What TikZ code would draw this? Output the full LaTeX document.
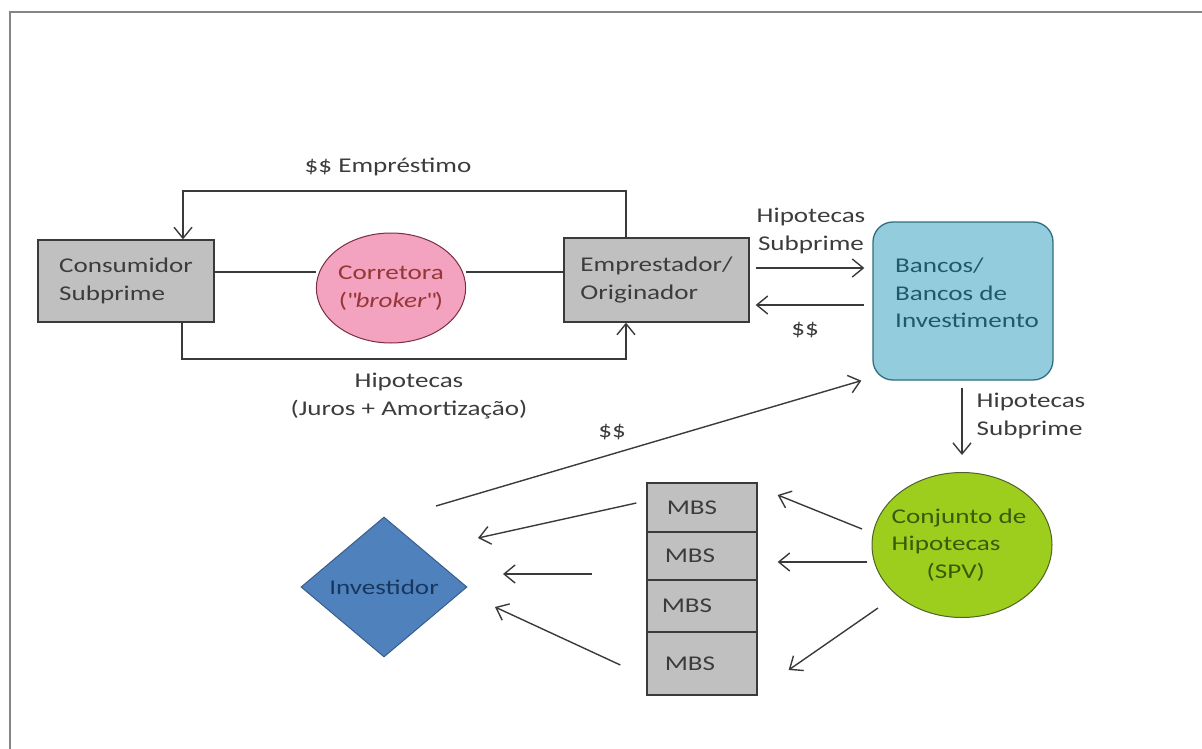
\documentclass[tikz,border=0pt]{standalone}
\usepackage{fontspec}
\setmainfont{Carlito}[FakeStretch=1.29]
\usetikzlibrary{arrows.meta,calc,shapes.geometric}
\pgfdeclarelayer{bg}
\pgfsetlayers{bg,main}
\definecolor{lineg}{HTML}{3A3A3A}
\definecolor{boxgray}{HTML}{C0C0C0}
\definecolor{txtgray}{HTML}{3C3C3C}
\definecolor{framegray}{HTML}{858585}
\definecolor{pinkfill}{HTML}{F3A2C0}
\definecolor{pinkborder}{HTML}{7A2E40}
\definecolor{pinktext}{HTML}{953735}
\definecolor{bancfill}{HTML}{93CDDD}
\definecolor{bancborder}{HTML}{2F6F80}
\definecolor{banctext}{HTML}{215968}
\definecolor{conjfill}{HTML}{9DCE1E}
\definecolor{conjborder}{HTML}{4F6228}
\definecolor{conjtext}{HTML}{3A5A0A}
\definecolor{invfill}{HTML}{4F81BD}
\definecolor{invborder}{HTML}{385D8A}
\definecolor{invtext}{HTML}{17375E}
\begin{document}
\begin{tikzpicture}[x=1pt,y=-1pt,
  every node/.style={font=\fontsize{21}{27.5}\selectfont},
  ln/.style={draw=lineg, line width=1.4pt},
  arr/.style={ln, -{Straight Barb[length=11pt,width=18pt]}},
  graybox/.style={rectangle, draw=lineg, line width=1.3pt, fill=boxgray, text=txtgray, align=left, inner sep=0pt},
  mbs/.style={rectangle, draw=lineg, line width=1.3pt, fill=boxgray, text=txtgray, minimum width=110pt, inner sep=0pt},
  lbl/.style={text=txtgray, inner sep=0pt}]
\useasboundingbox (0,0) rectangle (1202,749);
\draw[framegray, line width=2.5pt] (1202,12) -- (10,12) -- (10,749);

% nodes
\node[graybox, minimum width=176pt, minimum height=82pt] (cons) at (126,281) {Consumidor\\Subprime};
\node[ellipse, draw=pinkborder, line width=1pt, fill=pinkfill, text=pinktext, minimum width=140pt, minimum height=110pt, inner sep=0pt, align=center] (corr) at (391,288) {Corretora\\(\textquotedbl\textit{broker}\textquotedbl)};
\node[graybox, minimum width=185pt, minimum height=84pt] (emp) at (656.5,280) {Emprestador/\\Originador};
\node[rectangle, rounded corners=20pt, draw=bancborder, line width=1.3pt, fill=bancfill, minimum width=180pt, minimum height=158pt] (banc) at (963,301) {};
\node[text=banctext, align=left, inner sep=0pt] (banct) at (967,293) {Bancos/\\Bancos de\\Investimento};
\node[ellipse, draw=conjborder, line width=1pt, fill=conjfill, minimum width=180pt, minimum height=145pt, inner sep=0pt] (conj) at (962,545) {};
\node[text=conjtext, align=left, inner sep=0pt] (conjt) at (959,545) {Conjunto de\\Hipotecas\\\hspace*{35pt}(SPV)};
\node[diamond, draw=invborder, line width=1pt, fill=invfill, text=invtext, minimum width=166pt, minimum height=140pt, inner sep=0pt] (inv) at (384,587) {Investidor};
\node[mbs, minimum height=49pt] (m1) at (702,507.5) {MBS\hspace*{20pt}};
\node[mbs, minimum height=48pt] (m2) at (702,556) {MBS\hspace*{24pt}};
\node[mbs, minimum height=52pt] (m3) at (702,606) {MBS\hspace*{30pt}};
\node[mbs, minimum height=63pt] (m4) at (702,663.5) {MBS\hspace*{24pt}};

% labels
\node[lbl] (lemp) at (388,167) {\$\$ Empréstimo};
\node[lbl, align=center] (lhip) at (409,396) {Hipotecas\\(Juros + Amortização)};
\node[lbl, align=center] (lhs1) at (811,231) {Hipotecas\\Subprime};
\node[lbl] (ld1) at (805,330) {\$\$};
\node[lbl, align=left] (lhs2) at (1031,416) {Hipotecas\\Subprime};
\node[lbl] (ld2) at (612,432) {\$\$};

% loop coordinates
\coordinate (ltop) at (183,191);
\coordinate (rtop) at (626,191);
\coordinate (lbot) at (182,359);
\coordinate (rbot) at (626,359);
\coordinate (hl) at (0,272);

\begin{pgfonlayer}{bg}
\draw[ln] (cons.east |- hl) -- (corr.west |- hl);
\draw[ln] (corr.east |- hl) -- (emp.west |- hl);
\end{pgfonlayer}
\draw[arr] (emp.north -| rtop) -- (rtop) -- (ltop) -- (cons.north -| ltop);
\draw[arr] (cons.south -| lbot) -- (lbot) -- (rbot) -- (emp.south -| rbot);
\draw[arr] ($(emp.east)+(6,-12)$) -- ($(banc.west)+(-8,-33)$);
\draw[arr] ($(banc.west)+(-8,4)$) -- ($(emp.east)+(6,25)$);
\draw[arr] ($(banc.south)+(-1,7)$) -- ($(conj.north)+(0,-17)$);
\draw[arr] ($(inv.center)+(52,-81)$) -- ($(banc.south west)+(-11,0)$);
\draw[arr] ($(m1.west)+(-10,-4.5)$) -- ($(inv.center)+(94,-49)$);
\draw[arr] ($(m2.west)+(-54,18)$) -- ($(inv.center)+(119,-13)$);
\draw[arr] ($(m4.west)+(-26,1.5)$) -- ($(inv.center)+(111,20)$);
\draw[arr] ($(conj.center)+(-100,-16)$) -- ($(m1.east)+(20,-12.5)$);
\draw[arr] ($(conj.center)+(-95,17)$) -- ($(m2.east)+(20,6)$);
\draw[arr] ($(conj.center)+(-84,63)$) -- ($(m4.east)+(31,6.5)$);
\end{tikzpicture}
\end{document}
